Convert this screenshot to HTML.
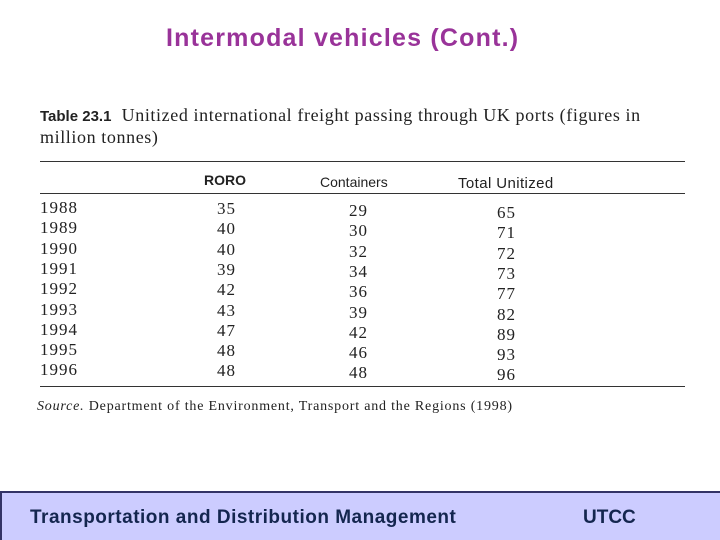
<!DOCTYPE html>
<html><head><meta charset="utf-8"><style>
body{margin:0;width:720px;height:540px;background:#fff;position:relative;overflow:hidden;font-family:"Liberation Sans",sans-serif}
.t{position:absolute;white-space:nowrap}
.serif{font-family:"Liberation Serif",serif;color:#222}
.rule{position:absolute;height:1px;background:#333}
</style></head><body>
<div class="t" style="left:166px;top:24px;font-size:25px;font-weight:bold;color:#993399;letter-spacing:1.2px">Intermodal vehicles (Cont.)</div>
<div class="t serif" style="left:40px;top:105px;font-size:18px;line-height:21px;letter-spacing:0.6px"><b style="font-family:'Liberation Sans',sans-serif;font-size:15px;letter-spacing:0">Table 23.1</b>&nbsp;&nbsp;Unitized international freight passing through UK ports (figures in<br>million tonnes)</div>
<div class="rule" style="left:40px;top:161px;width:645px"></div>
<div class="t" style="left:204px;top:172px;font-size:14px;font-weight:bold;color:#222">RORO</div>
<div class="t" style="left:320px;top:174px;font-size:14px;color:#222">Containers</div>
<div class="t" style="left:458px;top:175px;font-size:15px;color:#222;letter-spacing:0.4px">Total Unitized</div>
<div class="rule" style="left:40px;top:193px;width:645px"></div>
<div id="rows"></div>
<div class="rule" style="left:40px;top:386px;width:645px"></div>
<div class="t serif" style="left:37px;top:399px;font-size:14px;letter-spacing:0.8px"><i>Source.</i> Department of the Environment, Transport and the Regions (1998)</div>
<div style="position:absolute;left:0;top:491px;width:720px;height:49px;background:#ccccff;border-top:2px solid #333366;border-left:2px solid #333366;box-sizing:border-box"></div>
<div class="t" style="left:30px;top:507px;font-size:19px;font-weight:bold;color:#14264f;letter-spacing:0.5px">Transportation and Distribution Management</div>
<div class="t" style="left:583px;top:507px;font-size:19px;font-weight:bold;color:#14264f">UTCC</div>
<script>
const years=[1988,1989,1990,1991,1992,1993,1994,1995,1996];
const roro=[35,40,40,39,42,43,47,48,48];
const containers=[29,30,32,34,36,39,42,46,48];
const total=[65,71,72,73,77,82,89,93,96];
const c=document.getElementById('rows');
function cell(txt,x,y,name){const d=document.createElement('div');d.className='t serif';


d.style.cssText='left:'+x+'px;top:'+y+'px;font-size:17px;letter-spacing:1px;';d.textContent=txt;c.appendChild(d);}
years.forEach((yr,i)=>{const y=198+i*20.3;
cell(yr,40,y,'year-'+yr);
cell(roro[i],217,y+1,'roro-'+yr);
cell(containers[i],349,y+3,'containers-'+yr);
cell(total[i],497,y+5,'total-'+yr);});
</script>
</body></html>
